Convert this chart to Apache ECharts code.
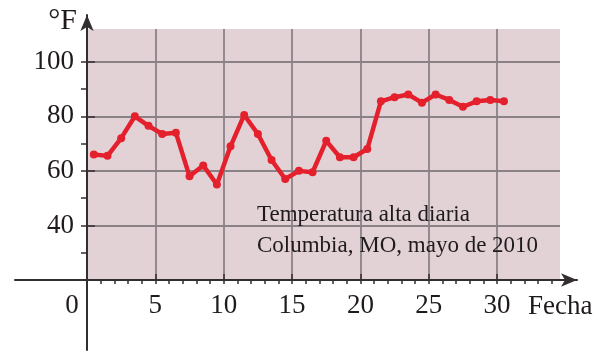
<!DOCTYPE html>
<html>
<head>
<meta charset="utf-8">
<script src="https://cdn.jsdelivr.net/npm/echarts@6/dist/echarts.min.js"></script>
<style>html,body{margin:0;padding:0;background:#fff;}#c{width:598px;height:352px;}</style>
</head>
<body>
<div id="c"></div>
<script>
// Data
const days = [1,2,3,4,5,6,7,8,9,10,11,12,13,14,15,16,17,18,19,20,21,22,23,24,25,26,27,28,29,30,31];
const temps = [66,65.5,72,80,76.5,73.5,74,58,62,55,69,80.5,73.5,64,57,60,59.5,71,65,65,68,85.5,87,88,85,88,86,83.5,85.5,86,85.5];
const xTickLabels = [0,5,10,15,20,25,30];
const yTickLabels = [40,60,80,100];
const xMinorTicks = [1,2,3,4,5,6,7,8,9,10,11,12,13,14,15,16,17,18,19,20,21,22,23,24,25,26,27,28,29,30,31,32,33,34];
const yMinorTicks = [30,40,50,60,70,80,90,100];
const yAxisName = '°F';
const xAxisName = 'Fecha';
const noteLines = ['Temperatura alta diaria', 'Columbia, MO, mayo de 2010'];

const FONT = 'Liberation Serif';
const TXT = '#1f1b1d';
const AX = '#332e31';
const GRIDC = '#8a8287';
const RED = '#e4202d';

const chart = echarts.init(document.getElementById('c'), null, {renderer: 'canvas'});
chart.setOption({
  animation: false,
  backgroundColor: '#ffffff',
  title: {
    text: noteLines.join('\n'),
    left: 252, top: 194,
    textStyle: {fontFamily: FONT, fontSize: 23, fontWeight: 'normal', color: TXT, lineHeight: 31}
  },
  grid: [
    {left: 87, top: 29, width: 473, height: 251, show: true, backgroundColor: '#e2d2d6', borderWidth: 0},
    {left: 15, top: 15, width: 562, height: 335, show: false}
  ],
  xAxis: [
    {
      type: 'value', gridIndex: 0, min: 0, max: 34.6, interval: 5,
      axisLine: {show: false},
      axisTick: {show: true, inside: true, length: 6, customValues: xTickLabels.slice(1), lineStyle: {color: AX, width: 1.5}},
      axisLabel: {
        customValues: xTickLabels,
        fontFamily: FONT, fontSize: 27, color: TXT, margin: 12,
        formatter: v => v === 0 ? '{z|0}' : String(v),
        rich: {z: {fontFamily: FONT, fontSize: 27, color: TXT, padding: [0, 30, 0, 0]}}
      },
      splitLine: {show: true, lineStyle: {color: GRIDC, width: 1.8}},
      name: xAxisName, nameLocation: 'end', nameGap: -32,
      nameTextStyle: {fontFamily: FONT, fontSize: 27, color: TXT, align: 'left', verticalAlign: 'top', padding: [13, 0, 0, 0]}
    },
    {
      type: 'value', gridIndex: 0, min: 0, max: 34.6, interval: 1, position: 'bottom', offset: 0,
      axisLine: {show: false},
      axisTick: {show: true, inside: false, length: 4, customValues: xMinorTicks, lineStyle: {color: AX, width: 1.5}},
      axisLabel: {show: false}, splitLine: {show: false}
    },
    {
      type: 'value', gridIndex: 1, min: -72, max: 490,
      axisLine: {show: true, onZero: true, symbol: ['none', 'arrow'], symbolSize: [10, 16], lineStyle: {color: AX, width: 2}},
      axisTick: {show: false}, axisLabel: {show: false}, splitLine: {show: false}
    }
  ],
  yAxis: [
    {
      type: 'value', gridIndex: 0, min: 20, max: 112, interval: 20,
      axisLine: {show: false},
      axisTick: {show: true, inside: true, length: 8, customValues: yTickLabels, lineStyle: {color: AX, width: 1.5}},
      axisLabel: {customValues: yTickLabels, fontFamily: FONT, fontSize: 27, color: TXT, margin: 13},
      splitLine: {show: true, lineStyle: {color: GRIDC, width: 1.8}},
      name: yAxisName, nameLocation: 'end', nameGap: 8,
      nameTextStyle: {fontFamily: FONT, fontSize: 30, color: TXT, align: 'right', verticalAlign: 'middle', padding: [0, 10, 0, 0]}
    },
    {
      type: 'value', gridIndex: 0, min: 20, max: 112, interval: 10, position: 'left', offset: 0,
      axisLine: {show: false},
      axisTick: {show: true, inside: false, length: 6, customValues: yMinorTicks, lineStyle: {color: AX, width: 1.5}},
      axisLabel: {show: false}, splitLine: {show: false}
    },
    {
      type: 'value', gridIndex: 1, min: -70, max: 265,
      axisLine: {show: true, onZero: true, symbol: ['none', 'arrow'], symbolSize: [10, 16], lineStyle: {color: AX, width: 2}},
      axisTick: {show: false}, axisLabel: {show: false}, splitLine: {show: false}
    }
  ],
  series: [{
    type: 'line', xAxisIndex: 0, yAxisIndex: 0,
    data: days.map((d, i) => [d - 0.5, temps[i]]),
    symbol: 'circle', symbolSize: 8,
    lineStyle: {color: RED, width: 4.5},
    itemStyle: {color: RED},
    z: 5
  }]
});
</script>
</body>
</html>
